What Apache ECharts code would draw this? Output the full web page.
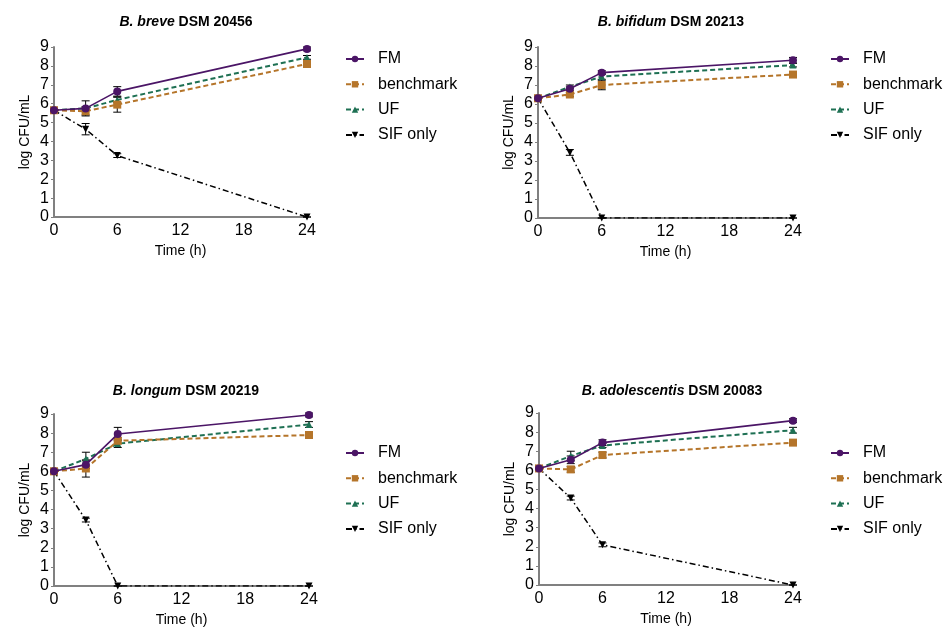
<!DOCTYPE html>
<html>
<head>
<meta charset="utf-8">
<script src="https://cdn.jsdelivr.net/npm/echarts@6/dist/echarts.min.js"></script>
<style>
  html, body { margin: 0; padding: 0; background: #fff; }
  #chart { width: 946px; height: 632px; }
</style>
</head>
<body>
<div id="chart"></div>
<script>
// sampling times (h)
var times = [0, 3, 6, 24];
var seriesNames = ['FM', 'benchmark', 'UF', 'SIF only'];

// panel titles: italic species + strain
var species = ['B. breve', 'B. bifidum', 'B. longum', 'B. adolescentis'];
var strains = ['DSM 20456', 'DSM 20213', 'DSM 20219', 'DSM 20083'];

// means (log CFU/mL), one array per panel
var breveFM    = [5.65, 5.75, 6.65, 8.9];
var breveBench = [5.65, 5.6, 5.95, 8.1];
var breveUF    = [5.65, 5.75, 6.2, 8.45];
var breveSIF   = [5.65, 4.65, 3.25, 0];

var bifidumFM    = [6.3, 6.8, 7.65, 8.3];
var bifidumBench = [6.3, 6.5, 7.0, 7.55];
var bifidumUF    = [6.3, 6.9, 7.45, 8.05];
var bifidumSIF   = [6.3, 3.45, 0, 0];

var longumFM    = [6.0, 6.35, 7.95, 8.95];
var longumBench = [6.0, 6.15, 7.6, 7.9];
var longumUF    = [6.0, 6.65, 7.45, 8.45];
var longumSIF   = [6.0, 3.45, 0, 0];

var adolFM    = [6.1, 6.55, 7.45, 8.6];
var adolBench = [6.1, 6.05, 6.8, 7.45];
var adolUF    = [6.1, 6.75, 7.3, 8.1];
var adolSIF   = [6.1, 4.55, 2.1, 0];

// error (+/-) for the same points
var breveFMErr    = [0.05, 0.4, 0.25, 0.1];
var breveBenchErr = [0.05, 0.2, 0.4, 0.15];
var breveUFErr    = [0.05, 0.1, 0.15, 0.1];
var breveSIFErr   = [0.05, 0.3, 0.1, 0];

var bifidumFMErr    = [0.05, 0.1, 0.1, 0.15];
var bifidumBenchErr = [0.05, 0.1, 0.25, 0.15];
var bifidumUFErr    = [0.05, 0.1, 0.15, 0.1];
var bifidumSIFErr   = [0.05, 0.15, 0, 0];

var longumFMErr    = [0.05, 0.2, 0.35, 0.1];
var longumBenchErr = [0.05, 0.45, 0.15, 0.1];
var longumUFErr    = [0.05, 0.35, 0.2, 0.15];
var longumSIFErr   = [0.05, 0.1, 0, 0];

var adolFMErr    = [0.05, 0.2, 0.15, 0.1];
var adolBenchErr = [0.05, 0.15, 0.15, 0.1];
var adolUFErr    = [0.05, 0.25, 0.1, 0.15];
var adolSIFErr   = [0.05, 0.1, 0.1, 0];

var panels = [
  { means: [breveFM, breveBench, breveUF, breveSIF], errs: [breveFMErr, breveBenchErr, breveUFErr, breveSIFErr] },
  { means: [bifidumFM, bifidumBench, bifidumUF, bifidumSIF], errs: [bifidumFMErr, bifidumBenchErr, bifidumUFErr, bifidumSIFErr] },
  { means: [longumFM, longumBench, longumUF, longumSIF], errs: [longumFMErr, longumBenchErr, longumUFErr, longumSIFErr] },
  { means: [adolFM, adolBench, adolUF, adolSIF], errs: [adolFMErr, adolBenchErr, adolUFErr, adolSIFErr] }
];

var colors = ['#4b1566', '#b5752a', '#1e7053', '#000000'];
var symbols = ['circle', 'rect', 'triangle', 'path://M0,0 L10,0 L5,9 Z'];
var symbolSizes = [8, 8, 7, 7];
var lineStyles = [
  { width: 1.6, type: 'solid' },
  { width: 2, type: [5, 3] },
  { width: 2, type: [5, 3] },
  { width: 1.5, type: [6, 3, 1.5, 3] }
];

var font = 'Liberation Sans, Arial, sans-serif';
var grids = [
  { left: 54, top: 47, width: 253, height: 170 },
  { left: 538, top: 47, width: 255, height: 171 },
  { left: 54, top: 414, width: 255, height: 172 },
  { left: 539, top: 413, width: 254, height: 172 }
];
var legendPos = [[345, 51], [830, 51], [345, 445], [830, 445]];
var titlePos = [[181, 10], [666, 10], [181, 379], [667, 379]];

var chart = echarts.init(document.getElementById('chart'));

var xAxes = [], yAxes = [], series = [], legends = [], titles = [];
grids.forEach(function (g, p) {
  xAxes.push({
    type: 'value', gridIndex: p, min: 0, max: 24, interval: 6,
    name: 'Time (h)', nameLocation: 'middle', nameGap: 27,
    nameTextStyle: { fontFamily: font, fontSize: 14, color: '#000' },
    axisLine: { show: true, lineStyle: { color: '#808080', width: 2 } },
    axisTick: { show: false },
    axisLabel: { fontFamily: font, fontSize: 16, color: '#000', margin: 6 },
    splitLine: { show: false }
  });
  yAxes.push({
    type: 'value', gridIndex: p, min: 0, max: 9, interval: 1,
    name: 'log CFU/mL', nameLocation: 'middle', nameGap: 22,
    nameTextStyle: { fontFamily: font, fontSize: 14, color: '#000' },
    axisLine: { show: true, lineStyle: { color: '#808080', width: 2 } },
    axisTick: { show: true, length: 3, lineStyle: { color: '#808080', width: 1 } },
    axisLabel: { fontFamily: font, fontSize: 16, color: '#000', margin: 5 },
    splitLine: { show: false }
  });
  titles.push({
    text: '{i|' + species[p] + ' }{b|' + strains[p] + '}',
    left: titlePos[p][0], top: titlePos[p][1], textAlign: 'center',
    textStyle: {
      rich: {
        i: { fontFamily: font, fontSize: 14, fontWeight: 'bold', fontStyle: 'italic', color: '#000' },
        b: { fontFamily: font, fontSize: 14, fontWeight: 'bold', color: '#000' }
      }
    }
  });
  legends.push({
    data: seriesNames.slice(), orient: 'vertical',
    left: legendPos[p][0], top: legendPos[p][1], padding: 0,
    itemWidth: 18, itemHeight: 8, itemGap: 9.3,
    textStyle: { fontFamily: font, fontSize: 16, color: '#000', padding: [0, 0, 0, 9] },
    selectedMode: false
  });

  var panel = panels[p];
  // draw SIF first, FM last
  [3, 1, 2, 0].forEach(function (s) {
    var errData = times.map(function (t, i) {
      return [t, panel.means[s][i] - panel.errs[s][i], panel.means[s][i] + panel.errs[s][i]];
    });
    series.push({
      type: 'custom', xAxisIndex: p, yAxisIndex: p, silent: true,
      z: 1,
      data: errData,
      encode: { x: 0, y: [1, 2] },
      renderItem: function (params, api) {
        var lo = api.coord([api.value(0), api.value(1)]);
        var hi = api.coord([api.value(0), api.value(2)]);
        var w = 4;
        var st = { stroke: '#000', lineWidth: 1 };
        return {
          type: 'group',
          children: [
            { type: 'line', shape: { x1: lo[0], y1: lo[1], x2: hi[0], y2: hi[1] }, style: st },
            { type: 'line', shape: { x1: lo[0] - w, y1: lo[1], x2: lo[0] + w, y2: lo[1] }, style: st },
            { type: 'line', shape: { x1: hi[0] - w, y1: hi[1], x2: hi[0] + w, y2: hi[1] }, style: st }
          ]
        };
      }
    });
    series.push({
      name: seriesNames[s], type: 'line', xAxisIndex: p, yAxisIndex: p,
      data: times.map(function (t, i) { return [t, panel.means[s][i]]; }),
      symbol: symbols[s], symbolSize: symbolSizes[s], showAllSymbol: true,
      z: 2 + (s === 0 ? 3 : 3 - s),
      lineStyle: { color: colors[s], width: lineStyles[s].width, type: lineStyles[s].type },
      itemStyle: { color: colors[s] },
      animation: false
    });
  });
});

chart.setOption({
  animation: false,
  title: titles,
  grid: grids,
  xAxis: xAxes,
  yAxis: yAxes,
  legend: legends,
  series: series
});
</script>
</body>
</html>
